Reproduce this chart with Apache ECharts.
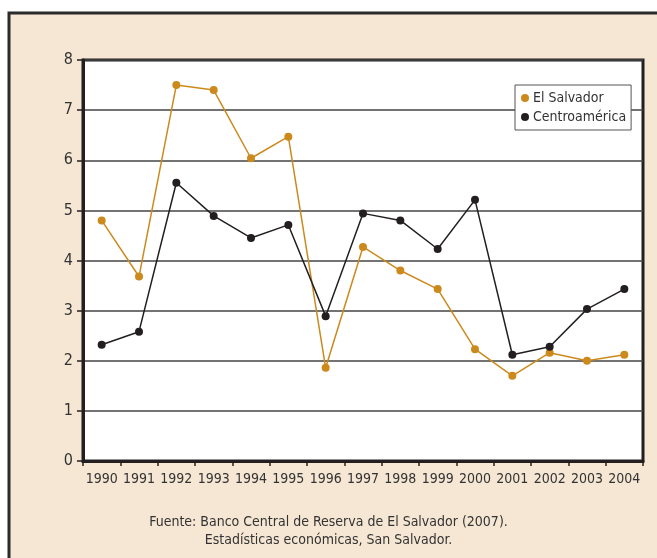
<!DOCTYPE html>
<html><head><meta charset="utf-8">
<script src="https://cdn.jsdelivr.net/npm/echarts@6/dist/echarts.min.js"></script>
<style>html,body{margin:0;padding:0;background:#fff;}#c{width:657px;height:558px;}</style>
</head><body><div id="c"></div>
<script>
var years = ['1990','1991','1992','1993','1994','1995','1996','1997','1998','1999','2000','2001','2002','2003','2004'];
var elSalvador = [4.8, 3.68, 7.5, 7.4, 6.04, 6.47, 1.86, 4.27, 3.8, 3.43, 2.23, 1.7, 2.16, 2.0, 2.12];
var centroamerica = [2.32, 2.58, 5.55, 4.89, 4.45, 4.71, 2.89, 4.94, 4.8, 4.23, 5.21, 2.12, 2.28, 3.03, 3.43];
var yTicks = [0, 8, 1];
var sourceLines = ['Fuente: Banco Central de Reserva de El Salvador (2007).', 'Estadísticas económicas, San Salvador.'];
var FONT = "'DejaVu Sans Condensed', 'Liberation Sans Narrow', sans-serif";
var ORANGE = '#CC8A1C', BLACK = '#231F20';
var chart = echarts.init(document.getElementById('c'), null, {renderer: 'canvas'});
chart.setOption({
  backgroundColor: '#ffffff',
  animation: false,
  graphic: [
    {type: 'rect', z: -10, shape: {x: 9, y: 13, width: 660, height: 560},
     style: {fill: '#F6E7D4', stroke: '#2b2b2b', lineWidth: 3}},
    {type: 'text', left: 'center', top: 513, z: 10,
     style: {text: sourceLines.join('\n'), font: '14px ' + FONT, fill: '#333', textAlign: 'center', lineHeight: 18}}
  ],
  grid: {left: 83, right: 14, top: 60, bottom: 97, show: true, backgroundColor: '#fff', borderColor: BLACK, borderWidth: 3},
  legend: {
    orient: 'vertical', left: 515, top: 85, backgroundColor: '#fff', borderColor: '#555', borderWidth: 1,
    padding: [6, 5, 6, 6], itemWidth: 8, itemHeight: 8, itemGap: 5, icon: 'circle',
    textStyle: {fontFamily: FONT, fontSize: 14, color: '#333', padding: [0, 0, 0, -1]},
    data: ['El Salvador', 'Centroamérica']
  },
  xAxis: {
    type: 'category', data: years, boundaryGap: true,
    axisLine: {lineStyle: {color: BLACK, width: 3}},
    axisTick: {show: true, inside: false, length: 5, lineStyle: {color: BLACK, width: 1.5}},
    axisLabel: {fontFamily: FONT, fontSize: 14, color: '#333', margin: 11, interval: 0}
  },
  yAxis: {
    type: 'value', min: yTicks[0], max: yTicks[1], interval: yTicks[2],
    axisLine: {show: true, lineStyle: {color: BLACK, width: 3}},
    axisTick: {show: true, length: 6, lineStyle: {color: BLACK, width: 1.5}},
    axisLabel: {fontFamily: FONT, fontSize: 16, color: '#333', margin: 10},
    splitLine: {lineStyle: {color: '#444', width: 1.5}}
  },
  series: [
    {name: 'El Salvador', type: 'line', data: elSalvador, symbol: 'circle', symbolSize: 8,
     itemStyle: {color: ORANGE}, lineStyle: {color: ORANGE, width: 1.5}, z: 3},
    {name: 'Centroamérica', type: 'line', data: centroamerica, symbol: 'circle', symbolSize: 8,
     itemStyle: {color: BLACK}, lineStyle: {color: BLACK, width: 1.5}, z: 4}
  ]
});
</script></body></html>
